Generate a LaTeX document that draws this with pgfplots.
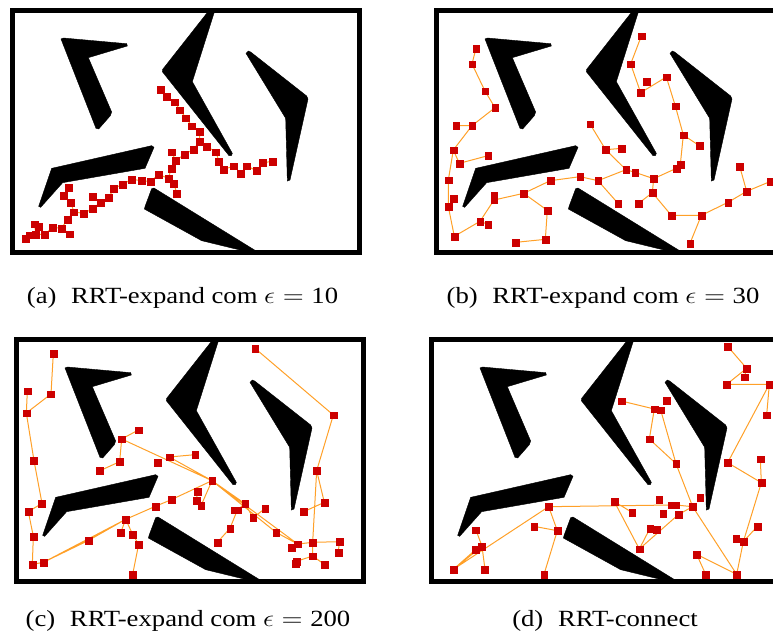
\documentclass[border=0pt]{standalone}
\usepackage{pgfplots}
\pgfplotsset{compat=1.18}
\usepackage{pgfplotstable}
\usepackage{graphicx}
\usepackage{fontspec}
\setmainfont{Liberation Serif}
\definecolor{nodered}{RGB}{204,0,0}
\definecolor{edgeorange}{RGB}{255,160,40}

\pgfplotsset{
  panel/.style={
    scale only axis, width=173.5pt, height=121pt,
    y dir=reverse, xtick=\empty, ytick=\empty,
    axis line style={line width=2.5pt, line join=miter},
    axis on top, clip=true, anchor=north west,
  },
  edges/.style={draw=edgeorange, line width=0.5pt, no markers, unbounded coords=jump},
  nodes/.style={only marks, mark=square*, mark size=1.7pt,
    mark options={fill=nodered, draw=nodered, line width=0.1pt}},
}

\newcommand{\obstacles}[2]{%
\addplot[fill=black, draw=black, line width=0.2pt, x filter/.expression={x+#1}, y filter/.expression={y+#2}]
 coordinates {(183,117) (190,114) (380,131) (382,138) (265,173) (335,336) (331,347) (296,387) (288,385)} -- cycle;
\addplot[fill=black, draw=black, line width=0.2pt, x filter/.expression={x+#1}, y filter/.expression={y+#2}]
 coordinates {(628,30) (645,30) (577,245) (697,460) (694,467) (687,467) (487,215) (488,208)} -- cycle;
\addplot[fill=black, draw=black, line width=0.2pt, x filter/.expression={x+#1}, y filter/.expression={y+#2}]
 coordinates {(738,160) (745,153) (752,156) (920,288) (924,297) (870,540) (862,543) (857,355)} -- cycle;
\addplot[fill=black, draw=black, line width=0.2pt, x filter/.expression={x+#1}, y filter/.expression={y+#2}]
 coordinates {(155,505) (455,437) (462,442) (435,505) (188,548) (122,622) (116,619)} -- cycle;
\addplot[fill=black, draw=black, line width=0.2pt, x filter/.expression={x+#1}, y filter/.expression={y+#2}]
 coordinates {(455,566) (462,564) (783,762) (730,762) (720,750) (605,722) (433,627) (436,617)} -- cycle;
}

\pgfplotstableread{
x y
481 268
499 290
524 306
540 330
558 354
576 378
600 395
598 425
621 440
648 456
657 485
672 508
701 498
722 520
740 498
770 512
789 488
818 484
nan nan
598 425
580 449
553 463
528 482
514 505
505 535
522 550
530 580
nan nan
514 456
528 482
nan nan
505 535
475 523
453 545
425 542
395 538
368 553
342 565
326 592
302 607
279 625
252 640
222 636
202 658
185 685
157 682
135 703
108 703
88 705
78 715
nan nan
302 607
279 590
nan nan
222 636
212 607
190 587
207 563
nan nan
185 685
210 702
nan nan
108 703
103 672
115 680
}\treea

\pgfplotstableread{
x y
168 145
156 192
195 273
225 323
156 377
100 450
85 540
85 620
103 709
180 664
222 600
311 580
391 542
480 530
534 542
618 509
645 517
701 536
769 505
781 493
790 405
766 318
739 231
662 278
632 192
664 108
nan nan
680 245
nan nan
156 377
108 377
nan nan
100 450
118 490
204 467
nan nan
180 664
204 673
nan nan
222 600
222 585
nan nan
311 580
382 631
376 718
287 727
nan nan
534 542
594 610
nan nan
618 509
557 449
510 372
nan nan
557 449
605 445
nan nan
790 405
838 437
nan nan
701 536
697 578
656 610
nan nan
697 578
754 646
844 646
924 607
980 574
1052 544
nan nan
980 574
959 499
nan nan
844 646
810 730
nan nan
100 595
}\treeb

\pgfplotstableread{
x y
160 85
153 207
79 264
102 407
126 535
85 560
100 634
97 718
130 712
266 646
377 583
466 544
514 524
636 467
nan nan
79 264
82 198
nan nan
636 467
508 396
585 389
nan nan
636 467
365 342
415 315
nan nan
365 342
359 410
300 437
nan nan
636 467
603 542
590 527
592 500
nan nan
636 467
735 536
759 578
795 551
nan nan
636 467
828 622
893 657
875 667
nan nan
636 467
893 657
938 652
1018 650
1015 682
nan nan
735 536
712 555
690 610
652 652
nan nan
938 652
938 693
889 709
nan nan
938 693
973 718
nan nan
938 652
950 437
1000 270
765 70
nan nan
950 437
973 532
911 560
nan nan
377 583
362 623
nan nan
377 583
398 628
416 658
398 748
nan nan
130 712
377 583
nan nan
473 413
nan nan
703 555
nan nan
887 716
}\treec

\pgfplotstableread{
x y
923 64
980 130
920 178
1048 178
923 413
1024 473
970 650
950 748
818 545
768 416
722 255
703 252
604 228
nan nan
980 130
973 156
nan nan
1048 178
1040 270
nan nan
1024 473
1021 402
nan nan
970 650
948 640
nan nan
970 650
1012 604
nan nan
950 748
830 688
857 748
nan nan
703 252
688 342
768 416
nan nan
818 545
768 540
755 540
386 545
412 617
372 748
nan nan
412 617
342 604
nan nan
386 545
100 733
186 664
168 615
nan nan
100 733
168 673
nan nan
186 664
195 733
nan nan
818 545
776 568
658 672
690 610
nan nan
658 672
583 530
636 562
nan nan
740 227
nan nan
717 524
nan nan
729 566
nan nan
840 517
nan nan
710 613
}\treed

\newcommand{\subcap}[1]{\scalebox{1.15}[1]{\fontsize{11.6}{14}\selectfont #1}}

\begin{document}
\begin{tikzpicture}
\begin{scope}[x=0.5pt, y=-0.5pt]
  \coordinate (PA) at (12.5,10.5);
  \coordinate (PB) at (436.5,10.5);
  \coordinate (PC) at (16.5,339.5);
  \coordinate (PD) at (431.5,339.5);
  \begin{scope}[every node/.style={anchor=base, inner sep=0pt}]
    \node at (182.5,303) {\subcap{(a)\hspace{0.55em}RRT-expand com $\epsilon = \mbox{10}$}};
    \node at (603,303) {\subcap{(b)\hspace{0.55em}RRT-expand com $\epsilon = \mbox{30}$}};
    \node at (188,626) {\subcap{(c)\hspace{0.55em}RRT-expand com $\epsilon = \mbox{200}$}};
    \node at (605,626) {\subcap{(d)\hspace{0.55em}RRT-connect}};
  \end{scope}
\end{scope}

\begin{axis}[panel, at={(PA)}, xmin=37.5, xmax=1078.5, ymin=31.5, ymax=757.5]
  \obstacles{0}{0}
  \addplot[edges] table {\treea};
  \addplot[nodes] table {\treea};
\end{axis}

\begin{axis}[panel, at={(PB)}, xmin=49.5, xmax=1090.5, ymin=31.5, ymax=757.5]
  \obstacles{12}{0}
  \addplot[edges] table {\treeb};
  \addplot[nodes] table {\treeb};
\end{axis}

\begin{axis}[panel, at={(PC)}, xmin=49.5, xmax=1090.5, ymin=43.5, ymax=769.5]
  \obstacles{12}{12}
  \addplot[edges] table {\treec};
  \addplot[nodes] table {\treec};
\end{axis}

\begin{axis}[panel, at={(PD)}, xmin=34.5, xmax=1075.5, ymin=43.5, ymax=769.5]
  \obstacles{-3}{12}
  \addplot[edges] table {\treed};
  \addplot[nodes] table {\treed};
\end{axis}

\pgfresetboundingbox
\path[use as bounding box, x=0.5pt, y=-0.5pt] (0,0) rectangle (773,637);
\end{tikzpicture}
\end{document}
